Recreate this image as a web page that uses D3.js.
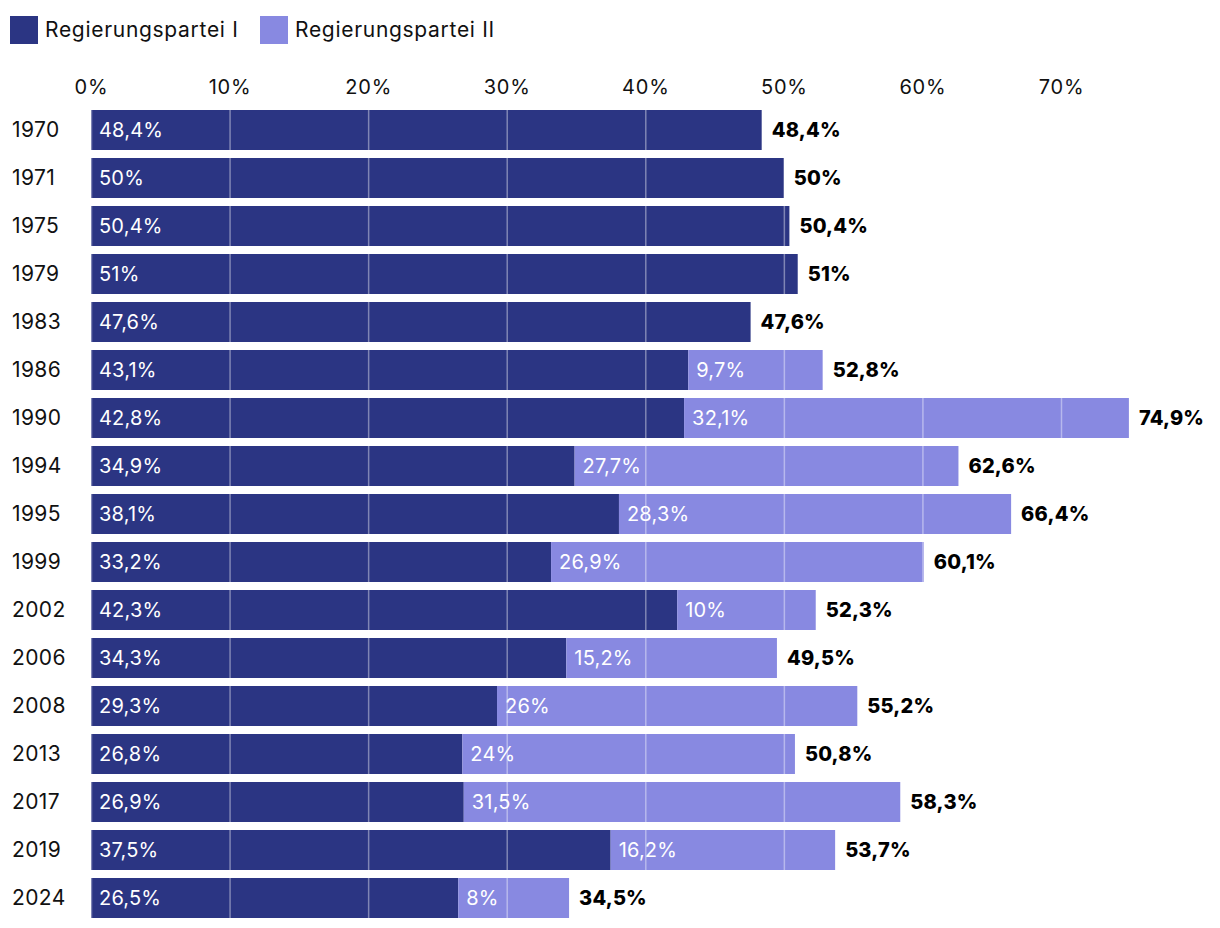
<!DOCTYPE html>
<html><head><meta charset="utf-8">
<script src="https://cdn.jsdelivr.net/npm/d3@7"></script>
<style>
body{margin:0;background:#fff;}
svg{font-family:Inter,"Liberation Sans",sans-serif;}
</style></head><body>
<svg id="c" width="1220" height="928"></svg>
<script>
const years = ["1970","1971","1975","1979","1983","1986","1990","1994","1995","1999","2002","2006","2008","2013","2017","2019","2024"];
const party1 = [48.4,50,50.4,51,47.6,43.1,42.8,34.9,38.1,33.2,42.3,34.3,29.3,26.8,26.9,37.5,26.5];
const party2 = [0,0,0,0,0,9.7,32.1,27.7,28.3,26.9,10,15.2,26,24,31.5,16.2,8];
const totals = [48.4,50,50.4,51,47.6,52.8,74.9,62.6,66.4,60.1,52.3,49.5,55.2,50.8,58.3,53.7,34.5];
const ticks = [0,10,20,30,40,50,60,70];
const seriesNames = ["Regierungspartei I","Regierungspartei II"];
const colors = ["#2b3583","#8889e1"];

const loc = d3.formatLocale({decimal:",",thousands:".",grouping:[3],currency:["","€"]});
const fmt = v => loc.format(",.1~f")(v) + "%";

const svg = d3.select("#c");
const x = d3.scaleLinear().domain([0,70]).range([91,1061]);
const y = d3.scaleBand().domain(years).range([106,922]).paddingInner(8/48).paddingOuter(4/48);

// legend
const lg = svg.append("g");
const lx = [10,260];
seriesNames.forEach((n,i)=>{
  lg.append("rect").attr("x",lx[i]).attr("y",16).attr("width",28).attr("height",28).attr("fill",colors[i]);
  lg.append("text").attr("x",lx[i]+35).attr("y",30).attr("dy","0.35em").attr("font-size",21).attr("fill","#111").attr("letter-spacing","0.7").text(n);
});

// axis
const ax = svg.append("g").attr("transform","translate(0,87)")
  .call(d3.axisTop(x).tickValues(ticks).tickFormat(d=>d+"%").tickSize(0).tickPadding(0));
ax.select(".domain").remove();
ax.selectAll("text").attr("font-size",20).attr("fill","#111").attr("dy","0.35em").attr("font-family","Inter,'Liberation Sans',sans-serif").attr("letter-spacing","0.8");

// year labels
svg.append("g").selectAll("text").data(years).join("text")
  .attr("x",12).attr("y",d=>y(d)+y.bandwidth()/2).attr("dy","0.35em")
  .attr("font-size",21).attr("fill","#111").attr("letter-spacing","0.4").text(d=>d);

const rows = years.map((yr,i)=>({yr,a:party1[i],b:party2[i],t:totals[i]}));

// bars
const bars = svg.append("g");
bars.selectAll("rect.a").data(rows).join("rect").attr("class","a")
  .attr("x",x(0)).attr("y",d=>y(d.yr)).attr("height",y.bandwidth())
  .attr("width",d=>x(d.a)-x(0)).attr("fill",colors[0]);
bars.selectAll("rect.b").data(rows.filter(d=>d.b>0)).join("rect").attr("class","b")
  .attr("x",d=>x(d.a)).attr("y",d=>y(d.yr)).attr("height",y.bandwidth())
  .attr("width",d=>x(d.a+d.b)-x(d.a)).attr("fill",colors[1]);

// gridlines over bars
svg.append("g").selectAll("line").data(ticks).join("line")
  .attr("x1",d=>x(d)+0.5).attr("x2",d=>x(d)+0.5)
  .attr("y1",y(years[0])).attr("y2",y(years[years.length-1])+y.bandwidth())
  .attr("stroke","#fff").attr("stroke-opacity",0.4).attr("stroke-width",1.5);

// inner labels
const lab = svg.append("g").attr("font-size",20).attr("fill","#fff").attr("letter-spacing","0.2");
lab.selectAll("text.a").data(rows).join("text").attr("class","a")
  .attr("x",x(0)+8).attr("y",d=>y(d.yr)+y.bandwidth()/2).attr("dy","0.35em").text(d=>fmt(d.a));
lab.selectAll("text.b").data(rows.filter(d=>d.b>0)).join("text").attr("class","b")
  .attr("x",d=>x(d.a)+8).attr("y",d=>y(d.yr)+y.bandwidth()/2).attr("dy","0.35em").text(d=>fmt(d.b));

// totals
svg.append("g").selectAll("text").data(rows).join("text")
  .attr("x",d=>x(d.a+d.b)+10).attr("y",d=>y(d.yr)+y.bandwidth()/2).attr("dy","0.35em")
  .attr("font-size",20).attr("font-weight",800).attr("fill","#000").attr("letter-spacing","0.2")
  .text(d=>fmt(d.t));
</script>
</body></html>
